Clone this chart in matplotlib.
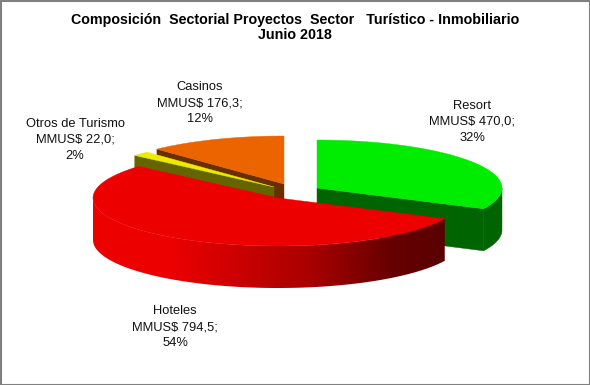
import numpy as np
import matplotlib
matplotlib.use("Agg")
import matplotlib.pyplot as plt
from matplotlib.colors import LinearSegmentedColormap
from matplotlib.patches import Polygon, Rectangle

plt.rcParams['font.family'] = ['Liberation Sans', 'DejaVu Sans']

# data, clockwise from 12 o'clock
sectors = ["Resort", "Hoteles", "Otros de Turismo", "Casinos"]
amounts = [470.0, 794.5, 22.0, 176.3]
percent = [32, 54, 2, 12]
amount_text = ["470,0", "794,5", "22,0", "176,3"]

# style and layout, in pixels of the 590x385 picture
top_colors = ["#00ec00", "#ec0000", "#ecec00", "#ec6400"]
side_colors = ["#006400", "#ec0000", "#646400", "#6a2f00"]
centers = [(317, 188), (278, 198), (274, 187), (284, 184)]
label_pos = [(472, 122), (175, 327), (75, 140), (200, 103)]
rx, ry, depth = 185, 48, 42

shares = np.array(amounts) / sum(amounts)
edges = np.concatenate([[0], np.cumsum(shares)]) * 2 * np.pi


def rim(cx, cy, a0, a1, n=200):
    a = np.linspace(a0, a1, n)
    return np.column_stack([cx + rx * np.sin(a), cy - ry * np.cos(a)])


fig = plt.figure(figsize=(5.9, 3.85), dpi=100)
ax = fig.add_axes([0, 0, 1, 1])
ax.set_xlim(0, 590)
ax.set_ylim(385, 0)
ax.axis("off")

# back to front: casinos, otros, resort, hoteles
for i, z in zip([3, 2, 0, 1], [2, 3, 4, 5]):
    cx, cy = centers[i]
    a0, a1 = edges[i], edges[i + 1]
    outer = rim(cx, cy, a0, a1)
    apex = np.array([cx, cy])
    down = np.array([0, depth])

    # cut face that looks to the viewer
    if i == 0:
        face = [apex, outer[-1], outer[-1] + down, apex + down]
    elif i in (2, 3):
        face = [apex, outer[0], outer[0] + down, apex + down]
    else:
        face = None
    if face is not None:
        ax.add_patch(Polygon(face, closed=True, fc=side_colors[i], ec=side_colors[i], lw=0.3, zorder=z))

    # outer wall, only the part at the front of the ellipse
    lo, hi = max(a0, np.pi / 2), min(a1, 3 * np.pi / 2)
    if lo < hi:
        front = rim(cx, cy, lo, hi)
        wall = np.vstack([front, (front + down)[::-1]])
        patch = Polygon(wall, closed=True, fc=side_colors[i], ec=side_colors[i], lw=0.3, zorder=z)
        ax.add_patch(patch)
        if i == 1:
            # red wall fades to dark from left to right
            patch.set_alpha(0)
            cmap = LinearSegmentedColormap.from_list(
                "wall", [(0, "#ec0000"), (0.22, "#ec0000"), (0.62, "#a80000"), (0.85, "#660000"), (1, "#5a0000")])
            grad = np.linspace(0, 1, 256).reshape(1, -1)
            x0, x1 = wall[:, 0].min(), wall[:, 0].max()
            y0, y1 = wall[:, 1].min(), wall[:, 1].max()
            im = ax.imshow(grad, cmap=cmap, extent=(x0, x1, y1, y0), aspect="auto", zorder=z)
            im.set_clip_path(patch)

    top = np.vstack([apex, outer])
    ax.add_patch(Polygon(top, closed=True, fc=top_colors[i], ec=top_colors[i], lw=0.3, zorder=z + 0.5))

ax.set_xlim(0, 590)
ax.set_ylim(385, 0)

# labels
for i, name in enumerate(sectors):
    txt = f"{name}\nMMUS$ {amount_text[i]};\n{percent[i]}%"
    ax.text(label_pos[i][0], label_pos[i][1], txt, ha="center", va="center",
            fontsize=9.3, color="#111111", linespacing=1.4, zorder=10)

ax.text(295, 20, "Composición  Sectorial Proyectos  Sector   Turístico - Inmobiliario",
        ha="center", va="center", fontsize=10.3, fontweight="bold", color="black", zorder=10)
ax.text(295, 35, "Junio 2018", ha="center", va="center", fontsize=10.3, fontweight="bold",
        color="black", zorder=10)

# chart border
ax.add_patch(Rectangle((0.5, 0.5), 589, 384, fill=False, ec="#808080", lw=1.5, zorder=11))

fig.savefig("out.png", dpi=100)
